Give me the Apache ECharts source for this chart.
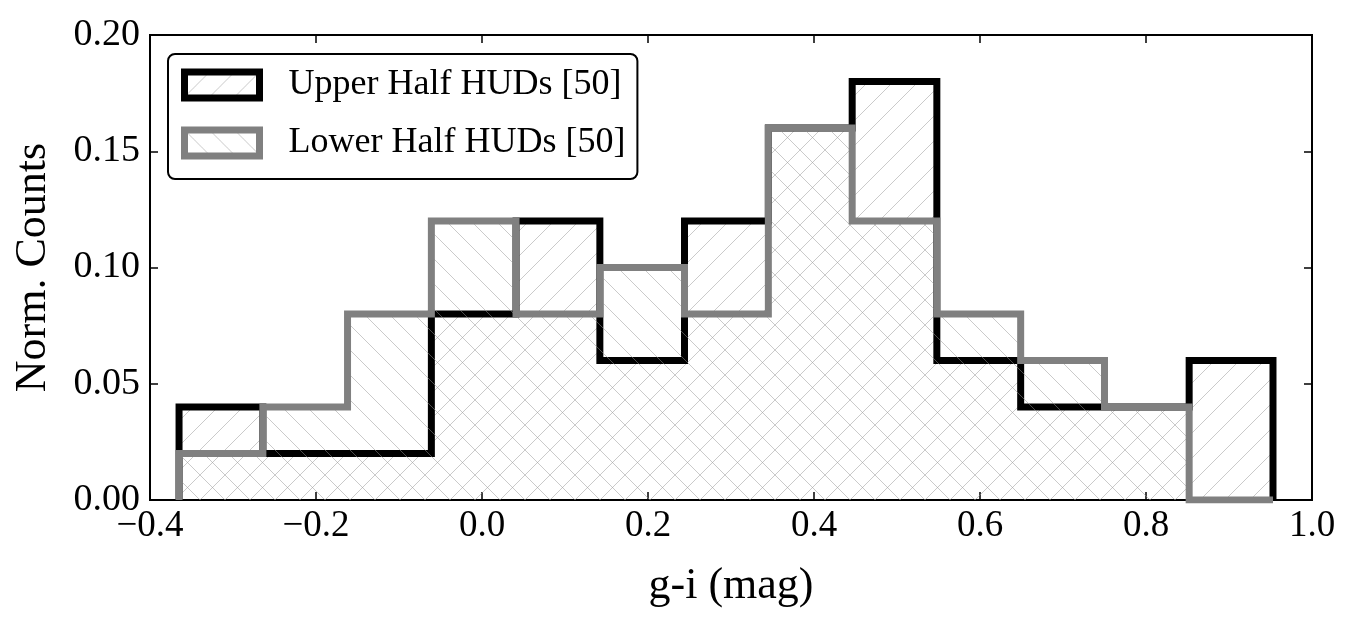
<!DOCTYPE html>
<html>
<head>
<meta charset="utf-8">
<script src="https://cdn.jsdelivr.net/npm/echarts@6/dist/echarts.min.js"></script>
<style>
html,body{margin:0;padding:0;background:#fff;}
#chart{width:1355px;height:621px;}
</style>
</head>
<body>
<div id="chart"></div>
<script>
// Data
const binEdges = [-0.365, -0.264, -0.162, -0.061, 0.041, 0.142, 0.244, 0.345, 0.446, 0.548, 0.649, 0.750, 0.852, 0.953];
const upperHalf = [0.04, 0.02, 0.02, 0.08, 0.12, 0.06, 0.12, 0.16, 0.18, 0.06, 0.04, 0.04, 0.06];
const lowerHalf = [0.02, 0.04, 0.08, 0.12, 0.08, 0.10, 0.08, 0.16, 0.12, 0.08, 0.06, 0.04, 0.00];
const seriesNames = ['Upper Half HUDs [50]', 'Lower Half HUDs [50]'];
const xTicks = [-0.4, -0.2, 0.0, 0.2, 0.4, 0.6, 0.8, 1.0];
const yTicks = [0.00, 0.05, 0.10, 0.15, 0.20];

function stepPoints(edges, vals) {
  const pts = [[edges[0], 0]];
  for (let i = 0; i < vals.length; i++) {
    pts.push([edges[i], vals[i]]);
    pts.push([edges[i + 1], vals[i]]);
  }
  pts.push([edges[edges.length - 1], 0]);
  return pts;
}

function hatch(dir) {
  const s = 25;
  const c = document.createElement('canvas');
  c.width = s; c.height = s;
  const g = c.getContext('2d');
  g.strokeStyle = 'rgba(150,150,150,0.5)';
  g.lineWidth = 1;
  g.beginPath();
  if (dir === '/') {
    g.moveTo(-2, s + 2); g.lineTo(s + 2, -2);
    g.moveTo(-2, 2); g.lineTo(2, -2);
    g.moveTo(s - 2, s + 2); g.lineTo(s + 2, s - 2);
  } else {
    g.moveTo(-2, -2); g.lineTo(s + 2, s + 2);
    g.moveTo(s - 2, -2); g.lineTo(s + 2, 2);
    g.moveTo(-2, s - 2); g.lineTo(2, s + 2);
  }
  g.stroke();
  return c;
}

const FONT = '"Liberation Serif", "DejaVu Serif", serif';
const fmtX = v => (v < 0 ? '\u2212' : '') + Math.abs(v).toFixed(1);
const fmtY = v => v.toFixed(2);

const chart = echarts.init(document.getElementById('chart'), null, {renderer: 'canvas'});
const colors = ['#000000', '#808080'];
const tickStyle = {show: true, inside: true, length: 8, lineStyle: {color: '#000', width: 1.5}};

chart.setOption({
  animation: false,
  backgroundColor: '#ffffff',
  grid: {left: 150, right: 43, top: 35, bottom: 121, outerBoundsMode: 'none', containLabel: false,
         show: true, borderColor: '#000', borderWidth: 2, backgroundColor: 'transparent'},
  legend: {
    left: 168, top: 54,
    orient: 'vertical',
    backgroundColor: '#fff',
    borderColor: '#000', borderWidth: 2, borderRadius: 7,
    padding: [13, 12, 18, 13],
    itemGap: 22,
    itemWidth: 75, itemHeight: 26,
    icon: 'rect',
    textStyle: {fontFamily: FONT, fontSize: 36, color: '#000', padding: [0, 0, 0, 24]},
    data: seriesNames.map((n, i) => ({
      name: n,
      icon: 'rect',
      itemStyle: {color: {image: hatch(i === 0 ? '/' : '\\'), repeat: 'repeat'}, borderColor: colors[i], borderWidth: 7}
    }))
  },
  xAxis: [{
    type: 'value', min: -0.4, max: 1.0, interval: 0.2,
    name: 'g-i (mag)', nameLocation: 'middle', nameGap: 64,
    nameTextStyle: {fontFamily: FONT, fontSize: 44, color: '#000'},
    axisLine: {show: true, onZero: false, lineStyle: {color: '#000', width: 2}},
    axisTick: tickStyle,
    axisLabel: {formatter: fmtX, fontFamily: FONT, fontSize: 37, color: '#000', margin: 8},
    splitLine: {show: false}
  }, {
    type: 'value', position: 'top', min: -0.4, max: 1.0, interval: 0.2,
    axisLine: {show: false, onZero: false},
    axisTick: tickStyle,
    axisLabel: {show: false}, splitLine: {show: false}
  }],
  yAxis: [{
    type: 'value', min: 0, max: 0.2, interval: 0.05,
    name: 'Norm. Counts', nameLocation: 'middle', nameGap: 95,
    nameTextStyle: {fontFamily: FONT, fontSize: 44, color: '#000'},
    axisLine: {show: true, onZero: false, lineStyle: {color: '#000', width: 2}},
    axisTick: tickStyle,
    axisLabel: {formatter: fmtY, fontFamily: FONT, fontSize: 38, color: '#000', margin: 10},
    splitLine: {show: false}
  }, {
    type: 'value', position: 'right', min: 0, max: 0.2, interval: 0.05,
    axisLine: {show: false, onZero: false},
    axisTick: tickStyle,
    axisLabel: {show: false}, splitLine: {show: false}
  }],
  series: [upperHalf, lowerHalf].map((vals, i) => ({
    name: seriesNames[i],
    type: 'line',
    data: stepPoints(binEdges, vals),
    symbol: 'none',
    lineStyle: {color: colors[i], width: 7, join: 'miter', cap: 'butt'},
    itemStyle: {color: colors[i]},
    areaStyle: {color: {image: hatch(i === 0 ? '/' : '\\'), repeat: 'repeat'}, origin: 'start', opacity: 1},
    z: 2 + i
  }))
});
</script>
</body>
</html>
